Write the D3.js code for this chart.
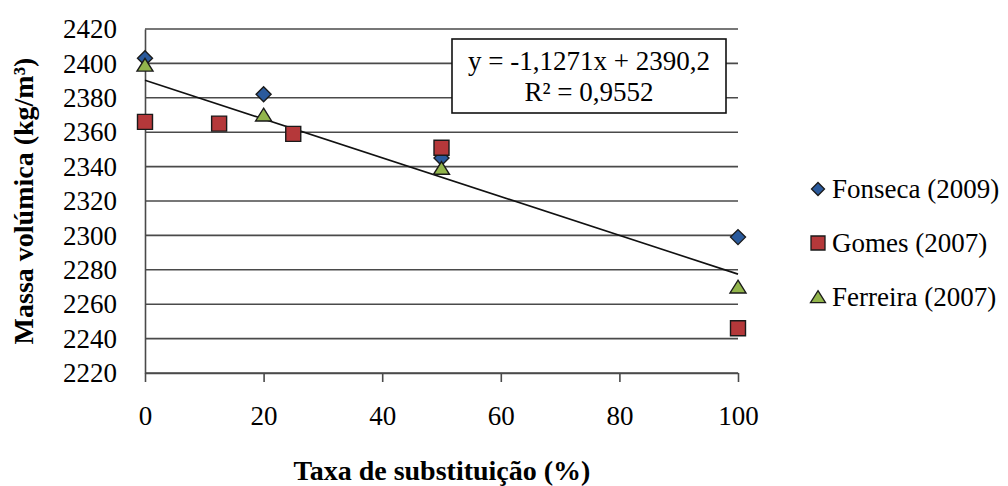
<!DOCTYPE html>
<html>
<head>
<meta charset="utf-8">
<script src="https://cdn.jsdelivr.net/npm/d3@7/dist/d3.min.js"></script>
<style>
  html, body { margin: 0; padding: 0; background: #fff; }
  svg { display: block; }
</style>
</head>
<body>
<svg id="chart" width="1008" height="486"></svg>
<script>
// Density data (kg/m3) against replacement rate (%)
const fonsecaX = [0, 20, 50, 100];
const fonsecaY = [2403, 2382, 2345, 2299];
const gomesX = [0, 12.5, 25, 50, 100];
const gomesY = [2366, 2365, 2359, 2351, 2246];
const ferreiraX = [0, 20, 50, 100];
const ferreiraY = [2399, 2370, 2339, 2270];

const seriesNames = ["Fonseca (2009)", "Gomes (2007)", "Ferreira (2007)"];
const xTicks = [0, 20, 40, 60, 80, 100];
const yTicks = [2220, 2240, 2260, 2280, 2300, 2320, 2340, 2360, 2380, 2400, 2420];

// Linear trend
const slope = -1.1271;
const intercept = 2390.2;
const r2 = "0,9552";

const FONT = "Liberation Serif";
const svg = d3.select("#chart");
const plotLeft = 145, plotRight = 738, plotTop = 29, plotBottom = 373;

const x = d3.scaleLinear().domain([0, 100]).range([plotLeft, plotRight]);
const y = d3.scaleLinear().domain([2220, 2420]).range([plotBottom, plotTop]);

const axisColor = "#4a4a4a";

// Axis titles
svg.append("text").attr("x", 442).attr("y", 480).attr("text-anchor", "middle")
  .style("font-family", FONT).attr("font-size", 28).attr("font-weight", "bold")
  .text("Taxa de substituição (%)");
svg.append("text").attr("transform", "translate(33,201) rotate(-90)").attr("text-anchor", "middle")
  .style("font-family", FONT).attr("font-size", 28).attr("font-weight", "bold")
  .text("Massa volúmica (kg/m³)");

// Legend labels
const legendY = [189, 243, 297];
seriesNames.forEach((name, i) => {
  svg.append("text").attr("x", 832).attr("y", legendY[i] + 9)
    .style("font-family", FONT).attr("font-size", 27).text(name);
});

// Horizontal gridlines
svg.append("g").selectAll("line").data(yTicks).join("line")
  .attr("x1", plotLeft).attr("x2", plotRight)
  .attr("y1", d => y(d)).attr("y2", d => y(d))
  .attr("stroke", axisColor).attr("stroke-width", 1.6);

// Y axis (line + labels)
const yAxis = svg.append("g").attr("transform", `translate(${plotLeft},0)`)
  .call(d3.axisLeft(y).tickValues(yTicks).tickSize(0).tickPadding(28).tickFormat(d3.format("d")));
yAxis.select(".domain").attr("stroke", axisColor).attr("stroke-width", 1.6);
yAxis.selectAll("text").style("font-family", FONT).attr("font-size", 27).attr("fill", "#000");

// X axis (line + downward ticks + labels)
const xAxis = svg.append("g").attr("transform", `translate(0,${plotBottom})`)
  .call(d3.axisBottom(x).tickValues(xTicks).tickSizeInner(9).tickSizeOuter(0).tickPadding(24).tickFormat(d3.format("d")));
xAxis.select(".domain").attr("stroke", axisColor).attr("stroke-width", 1.6);
xAxis.selectAll(".tick line").attr("stroke", axisColor).attr("stroke-width", 1.6);
xAxis.selectAll("text").style("font-family", FONT).attr("font-size", 27).attr("fill", "#000");

// Trend line
svg.append("line")
  .attr("x1", x(0)).attr("y1", y(intercept))
  .attr("x2", x(100)).attr("y2", y(intercept + slope * 100))
  .attr("stroke", "#111").attr("stroke-width", 1.6);

// Marker shapes
const diamond = s => `M0,${-s}L${s},0L0,${s}L${-s},0Z`;
const square = s => `M${-s},${-s}H${s}V${s}H${-s}Z`;
const triangle = s => `M0,${-s * 0.85}L${s},${s * 0.75}L${-s},${s * 0.75}Z`;

const styles = [
  { shape: diamond, size: 7.5, fill: "#2a5a9c" },
  { shape: square, size: 7.5, fill: "#b5383a" },
  { shape: triangle, size: 8, fill: "#92b54c" }
];

function drawSeries(xs, ys, st) {
  svg.append("g").selectAll("path").data(xs.map((v, i) => [v, ys[i]])).join("path")
    .attr("transform", d => `translate(${x(d[0])},${y(d[1])})`)
    .attr("d", st.shape(st.size))
    .attr("fill", st.fill).attr("stroke", "#1a1a1a").attr("stroke-width", 1.4);
}
drawSeries(fonsecaX, fonsecaY, styles[0]);
drawSeries(gomesX, gomesY, styles[1]);
drawSeries(ferreiraX, ferreiraY, styles[2]);

// Legend markers
const legendSizes = [6.5, 7, 7.5];
styles.forEach((st, i) => {
  svg.append("path").attr("transform", `translate(818,${legendY[i]})`)
    .attr("d", st.shape(legendSizes[i]))
    .attr("fill", st.fill).attr("stroke", "#1a1a1a").attr("stroke-width", 1.3);
});

// Equation box
svg.append("rect").attr("x", 452).attr("y", 39).attr("width", 274).attr("height", 74)
  .attr("fill", "#fff").attr("stroke", "#111").attr("stroke-width", 1.6);
svg.append("text").attr("x", 589).attr("y", 70).attr("text-anchor", "middle")
  .style("font-family", FONT).attr("font-size", 27)
  .text(`y = ${String(slope).replace(".", ",")}x + ${String(intercept).replace(".", ",")}`);
svg.append("text").attr("x", 589).attr("y", 101).attr("text-anchor", "middle")
  .style("font-family", FONT).attr("font-size", 27)
  .text(`R² = ${r2}`);
</script>
</body>
</html>
